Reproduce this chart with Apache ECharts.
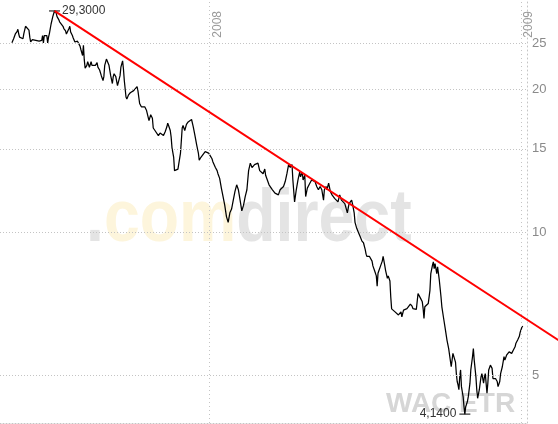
<!DOCTYPE html>
<html>
<head>
<meta charset="utf-8">
<script src="https://cdn.jsdelivr.net/npm/echarts@6/dist/echarts.min.js"></script>
<style>
html,body{margin:0;padding:0;background:#fff;}
#chart{width:558px;height:424px;}
</style>
</head>
<body>
<div id="chart"></div>
<script>
// ---- data ----
const dates = [
'2007-05-14','2007-05-16','2007-05-18','2007-05-20','2007-05-21','2007-05-22','2007-05-23','2007-05-25','2007-05-27','2007-05-28','2007-05-30',
'2007-06-01','2007-06-03','2007-06-04','2007-06-05','2007-06-07','2007-06-08','2007-06-09','2007-06-11','2007-06-13','2007-06-15','2007-06-16','2007-06-18','2007-06-19','2007-06-20','2007-06-21','2007-06-23','2007-06-24','2007-06-25','2007-06-26','2007-06-27','2007-06-29','2007-06-30',
'2007-07-01','2007-07-02','2007-07-03','2007-07-05','2007-07-06','2007-07-08','2007-07-09','2007-07-11','2007-07-13','2007-07-14','2007-07-16','2007-07-17','2007-07-19','2007-07-20','2007-07-21','2007-07-22','2007-07-24','2007-07-25','2007-07-27','2007-07-28','2007-07-30','2007-07-31',
'2007-08-02','2007-08-03','2007-08-05','2007-08-06','2007-08-07','2007-08-08','2007-08-10','2007-08-11','2007-08-13','2007-08-15','2007-08-16','2007-08-18','2007-08-20','2007-08-22','2007-08-23','2007-08-25','2007-08-27','2007-08-29','2007-08-30','2007-08-31',
'2007-09-02','2007-09-03','2007-09-05','2007-09-07','2007-09-09','2007-09-10','2007-09-11','2007-09-13','2007-09-15','2007-09-16','2007-09-18','2007-09-19','2007-09-21','2007-09-22','2007-09-23','2007-09-25','2007-09-26','2007-09-28','2007-09-30',
'2007-10-02','2007-10-04','2007-10-06','2007-10-08','2007-10-09','2007-10-11','2007-10-13','2007-10-15','2007-10-17','2007-10-19','2007-10-21','2007-10-22','2007-10-24','2007-10-26','2007-10-27','2007-10-29','2007-10-31',
'2007-11-02','2007-11-04','2007-11-06','2007-11-08','2007-11-10','2007-11-12','2007-11-13','2007-11-14','2007-11-16','2007-11-17','2007-11-18','2007-11-20','2007-11-21','2007-11-22','2007-11-23','2007-11-25','2007-11-27','2007-11-28','2007-11-29','2007-11-30',
'2007-12-01','2007-12-03','2007-12-05','2007-12-07','2007-12-09','2007-12-11','2007-12-13','2007-12-15','2007-12-17','2007-12-19','2007-12-20','2007-12-22','2007-12-24','2007-12-27','2007-12-29','2007-12-31',
'2008-01-02','2008-01-04','2008-01-05','2008-01-08','2008-01-10','2008-01-11','2008-01-13','2008-01-15','2008-01-17','2008-01-19','2008-01-21','2008-01-23','2008-01-24','2008-01-25','2008-01-27','2008-01-29','2008-01-31',
'2008-02-02','2008-02-03','2008-02-04','2008-02-05','2008-02-06','2008-02-08','2008-02-10','2008-02-12','2008-02-14','2008-02-16','2008-02-18','2008-02-20','2008-02-21','2008-02-23','2008-02-25','2008-02-27','2008-02-29',
'2008-03-02','2008-03-04','2008-03-06','2008-03-07','2008-03-09','2008-03-11','2008-03-13','2008-03-15','2008-03-18','2008-03-20','2008-03-22','2008-03-24','2008-03-26','2008-03-28','2008-03-30',
'2008-04-01','2008-04-03','2008-04-04','2008-04-05','2008-04-07','2008-04-08','2008-04-10','2008-04-11','2008-04-12','2008-04-14','2008-04-16','2008-04-17','2008-04-19','2008-04-20','2008-04-22','2008-04-23','2008-04-25','2008-04-27','2008-04-30',
'2008-05-02','2008-05-04','2008-05-06','2008-05-08','2008-05-10','2008-05-12','2008-05-14','2008-05-15','2008-05-17','2008-05-18','2008-05-20','2008-05-22','2008-05-24','2008-05-25','2008-05-27','2008-05-29','2008-05-31',
'2008-06-02','2008-06-04','2008-06-06','2008-06-08','2008-06-10','2008-06-11','2008-06-13','2008-06-14','2008-06-16','2008-06-17','2008-06-19','2008-06-20','2008-06-22','2008-06-24','2008-06-26','2008-06-28','2008-06-30',
'2008-07-02','2008-07-03','2008-07-04','2008-07-07','2008-07-08','2008-07-10','2008-07-11','2008-07-13','2008-07-15','2008-07-16','2008-07-17','2008-07-18','2008-07-20','2008-07-22','2008-07-23','2008-07-25','2008-07-26','2008-07-28','2008-07-29','2008-07-31',
'2008-08-01','2008-08-02','2008-08-04','2008-08-06','2008-08-08','2008-08-10','2008-08-11','2008-08-13','2008-08-14','2008-08-15','2008-08-16','2008-08-18','2008-08-20','2008-08-22','2008-08-24','2008-08-26','2008-08-27','2008-08-29','2008-08-31',
'2008-09-02','2008-09-03','2008-09-05','2008-09-07','2008-09-08','2008-09-09','2008-09-10','2008-09-12','2008-09-14','2008-09-16','2008-09-17','2008-09-19','2008-09-20','2008-09-21','2008-09-22','2008-09-24','2008-09-25','2008-09-27','2008-09-29','2008-09-30',
'2008-10-02','2008-10-04','2008-10-06','2008-10-08','2008-10-10','2008-10-11','2008-10-12','2008-10-13','2008-10-15','2008-10-16','2008-10-17','2008-10-18','2008-10-19','2008-10-20','2008-10-21','2008-10-22','2008-10-23','2008-10-25','2008-10-26','2008-10-27','2008-10-28','2008-10-30','2008-10-31',
'2008-11-02','2008-11-03','2008-11-05','2008-11-06','2008-11-07','2008-11-09','2008-11-10','2008-11-11','2008-11-13','2008-11-14','2008-11-15','2008-11-16','2008-11-18','2008-11-19','2008-11-20','2008-11-22','2008-11-23','2008-11-24','2008-11-26','2008-11-28','2008-11-29',
'2008-12-01','2008-12-02','2008-12-04','2008-12-05','2008-12-07','2008-12-08','2008-12-10','2008-12-12','2008-12-13','2008-12-15','2008-12-16','2008-12-18','2008-12-19','2008-12-21','2008-12-23','2008-12-25','2008-12-26','2008-12-28','2008-12-30','2008-12-31',
'2009-01-02','2009-01-03'
];
const prices = [
25.1,25.6,26.2,26.5,26.8,26.2,25.8,25.75,25.6,26.25,27.2,
27.1,26.7,25.8,25.2,25.5,25.3,25.5,25.4,25.45,25.3,25.5,25.4,26.0,25.1,26.0,26.25,26.0,25.1,25.8,26.25,27.5,27.5,
28.5,28.9,29.3,29.0,28.5,28.1,27.8,27.5,27.2,26.9,26.6,26.2,26.45,26.9,27.2,26.45,26.0,25.7,25.2,25.0,25.3,25.2,
24.7,24.3,23.6,24.8,23.1,22.2,22.5,22.9,22.3,22.9,22.5,22.7,22.5,22.8,22.3,22.0,21.4,20.9,21.3,22.5,
23.2,23.4,22.5,21.4,20.6,21.3,21.6,21.3,20.4,20.3,21.4,22.3,23.0,22.1,20.9,19.3,19.1,19.5,19.7,
19.6,19.9,20.1,20.3,19.9,18.7,18.4,18.5,18.4,18.1,17.5,17.2,17.7,17.4,16.6,16.4,16.3,
16.0,16.2,16.3,16.0,16.3,16.7,17.0,16.8,16.4,15.9,15.1,14.4,13.5,13.4,13.4,13.6,13.6,14.7,15.6,16.6,
16.8,16.4,16.9,17.1,17.2,17.3,16.7,16.0,15.3,14.7,14.2,14.4,14.5,14.8,14.7,14.7,
14.5,14.3,14.1,13.7,13.5,13.3,13.0,12.4,11.9,11.4,10.8,10.5,10.6,11.0,11.2,11.7,12.2,
12.6,12.7,12.3,12.0,11.7,11.1,11.4,11.9,12.3,13.5,14.0,13.7,13.6,13.9,14.0,14.0,13.5,
13.4,13.3,13.6,13.2,12.9,12.6,12.5,12.3,12.1,12.1,12.0,12.3,12.3,12.5,12.8,
13.3,13.9,14.0,13.7,13.9,12.9,11.6,11.5,12.3,12.9,13.4,13.1,13.4,12.9,13.2,11.9,12.4,12.6,12.9,
12.9,12.8,12.5,12.3,12.5,12.3,11.7,12.3,12.5,12.3,12.7,12.2,12.0,12.1,11.8,11.9,11.6,
12.0,11.7,11.8,11.5,11.4,11.0,11.5,11.6,11.7,11.5,11.0,10.5,10.2,10.0,9.8,9.6,9.5,
9.2,9.0,8.9,8.9,8.85,8.7,8.5,8.3,8.1,7.7,8.2,8.3,8.5,8.7,8.9,8.5,8.3,8.0,8.1,7.9,
7.3,6.9,6.85,6.8,6.75,6.7,6.64,6.8,6.64,6.6,6.86,6.8,6.91,6.97,7.06,6.99,6.91,6.95,6.88,
7.43,7.5,7.26,7.14,6.91,6.59,6.97,6.91,7.08,7.55,8.19,8.53,8.67,8.39,8.6,8.19,8.46,7.93,7.31,6.97,
6.6,6.26,5.93,5.69,5.65,5.21,5.38,5.56,5.6,5.33,5.04,4.85,4.77,4.66,4.96,5.13,4.73,4.5,4.29,4.14,4.29,4.4,4.5,
4.81,5.13,5.47,5.69,5.38,4.96,4.66,4.47,4.66,4.81,4.96,5.04,4.81,4.96,5.04,4.58,4.81,5.13,5.25,5.17,4.92,
4.89,4.92,4.85,4.73,4.85,5.04,5.21,5.47,5.38,5.51,5.47,5.6,5.65,5.56,5.65,5.74,5.84,5.93,6.04,6.16,
6.31,6.35
];
const yGridValues = [5, 10, 15, 20, 25];
const yearLines = ['2008-01-01', '2009-01-01'];
const yearNames = ['2008', '2009'];
const highDate = '2007-07-03', highValue = 29.3;
const lowDate = '2008-10-27', lowValue = 4.14;
const trendDates = ['2007-07-03', '2009-02-20'];
const trendValues = [29.3, 5.83];
const xRange = ['2007-04-30', '2009-01-08'];
const yRange = [3.965, 30.9];

// ---- chart ----
const FONT = '"Liberation Sans", Arial, sans-serif';
const fmt = v => Number(v).toFixed(4).replace('.', ',');
const chart = echarts.init(document.getElementById('chart'), null, {renderer: 'canvas'});
const watermark = [
  {
    id: 'wm1', type: 'text', x: 86, y: 184, z: 0, scaleX: 0.87, silent: true,
    style: {
      text: '{g|.}{y|com}{g|direct}',
      rich: {
        g: {fill: '#e4e4e4', fontSize: 74, fontWeight: 'bold', fontFamily: FONT},
        y: {fill: '#fdf5dc', fontSize: 74, fontWeight: 'bold', fontFamily: FONT}
      }
    }
  },
  {
    id: 'wm2', type: 'text', x: 386, y: 390, z: 0, silent: true,
    style: {text: 'WAC ETR', fill: '#d6d6d6', font: 'bold 28px ' + FONT}
  }
];
const option = {
  animation: false,
  backgroundColor: '#ffffff',
  grid: {left: 0, right: 31, top: 0, bottom: 1, containLabel: false},
  xAxis: {
    type: 'time', min: xRange[0], max: xRange[1],
    axisLine: {show: true, onZero: false, lineStyle: {color: '#c4c4c4', width: 1, type: [1, 2]}},
    axisTick: {show: false}, axisLabel: {show: false}, splitLine: {show: false}
  },
  yAxis: {
    type: 'log', logBase: 10, min: yRange[0], max: yRange[1], position: 'right',
    axisLine: {show: true, lineStyle: {color: '#c4c4c4', width: 1, type: [1, 3]}},
    axisTick: {show: false}, axisLabel: {show: false}, splitLine: {show: false}
  },
  graphic: watermark,
  series: [
    {
      type: 'line', name: 'grid', data: [], z: 1, silent: true,
      markLine: {
        silent: true, symbol: 'none', animation: false,
        lineStyle: {color: '#c4c4c4', width: 1, type: [1, 2]},
        data: yGridValues.map(v => ({
          yAxis: v,
          label: {show: true, position: 'end', distance: 5, formatter: String(v), color: '#8a8a8a', fontSize: 13, fontFamily: FONT}
        })).concat(yearLines.map((d, i) => ({
          xAxis: d, name: yearNames[i],
          lineStyle: {type: [1, 3]},
          label: {show: true, position: 'insideEndBottom', distance: [11, 2], formatter: yearNames[i], color: '#9a9a9a', fontSize: 12, fontFamily: FONT}
        })))
      }
    },
    {
      type: 'line', name: 'WAC', z: 3,
      data: dates.map((d, i) => [d, prices[i]]),
      showSymbol: false, symbol: 'none',
      lineStyle: {color: '#000000', width: 1.25},
      markPoint: {
        silent: true, symbol: 'rect', symbolSize: [11, 1],
        itemStyle: {color: '#000000'},
        label: {show: true, color: '#333333', fontSize: 12, fontFamily: FONT, formatter: p => fmt(p.value)},
        data: [
          {coord: [highDate, highValue], value: highValue, label: {position: 'right', distance: 2}},
          {coord: [lowDate, lowValue], value: lowValue, label: {position: 'left', distance: 3}}
        ]
      }
    }
  ]
};
chart.setOption(option);

// trend line: endpoints mapped through the chart's own scales (it runs past the plot edge)
const p1 = chart.convertToPixel({gridIndex: 0}, [trendDates[0], trendValues[0]]);
const p2 = chart.convertToPixel({gridIndex: 0}, [trendDates[1], trendValues[1]]);
chart.setOption({
  graphic: watermark.concat([{
    id: 'trend', type: 'line', z: 10, silent: true,
    shape: {x1: p1[0], y1: p1[1], x2: p2[0], y2: p2[1]},
    style: {stroke: '#ff0000', lineWidth: 2}
  }])
});
</script>
</body>
</html>
